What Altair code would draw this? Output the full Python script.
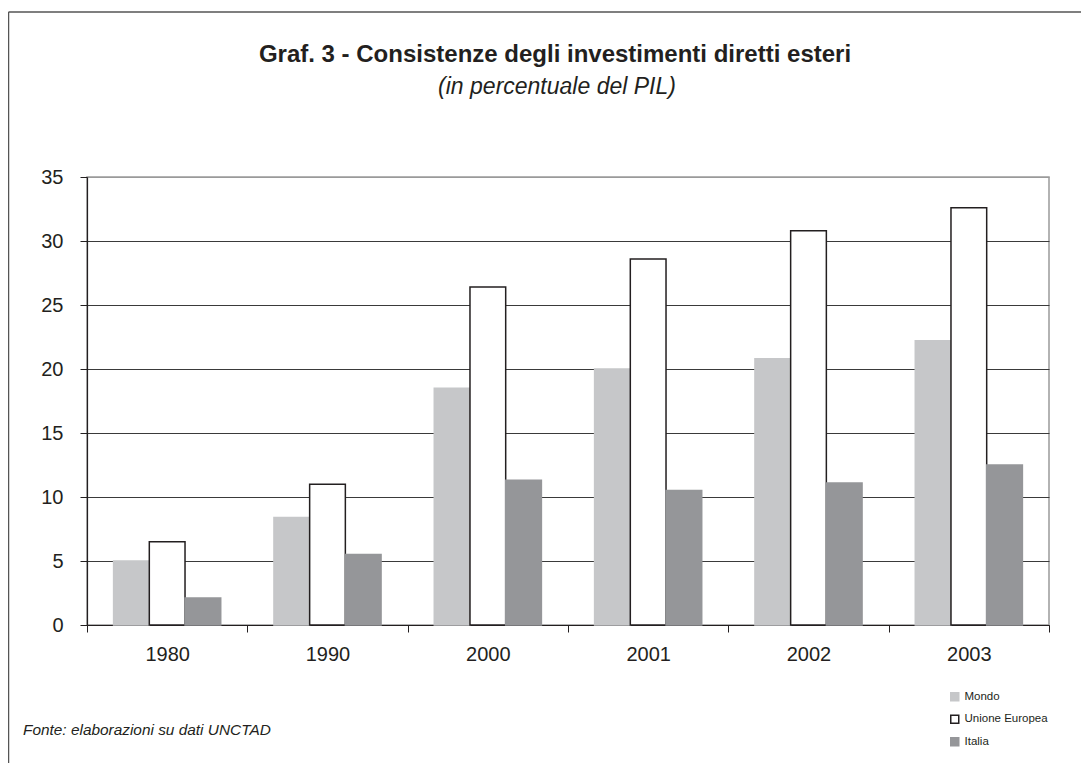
import altair as alt
import pandas as pd

years = ["1980", "1990", "2000", "2001", "2002", "2003"]
series = ["Mondo", "Unione Europea", "Italia"]
mondo = [5.0, 8.4, 18.5, 20.0, 20.8, 22.2]
ue = [6.5, 11.0, 26.4, 28.6, 30.8, 32.6]
italia = [2.1, 5.5, 11.3, 10.5, 11.1, 12.5]
colors_fill = ["#c6c7c9", "#ffffff", "#959699"]
colors_stroke = ["#c6c7c9", "#231f20", "#959699"]

title_text = "Graf. 3 - Consistenze degli investimenti diretti esteri"
subtitle_text = "(in percentuale del PIL)"
source_text = "Fonte: elaborazioni su dati UNCTAD"

rows = []
for i, y in enumerate(years):
    for s, vals in zip(series, [mondo, ue, italia]):
        rows.append({"anno": y, "serie": s, "valore": vals[i]})
df = pd.DataFrame(rows)

FONT = "Liberation Sans"
INK = "#231f20"

bars = alt.Chart(df).mark_bar(strokeWidth=1.5).encode(
    x=alt.X("anno:N", sort=years, title=None,
            scale=alt.Scale(paddingInner=0, paddingOuter=0),
            axis=alt.Axis(labelAngle=0, labelFontSize=20, labelFont=FONT, labelColor=INK,
                          domainColor=INK, domainWidth=1.2, tickColor=INK, tickSize=7,
                          tickBand="extent", labelPadding=12, grid=False)),
    xOffset=alt.XOffset("serie:N", sort=series,
                        scale=alt.Scale(domain=series, paddingOuter=0.745, paddingInner=0)),
    y=alt.Y("valore:Q", title=None,
            scale=alt.Scale(domain=[0, 35], nice=False),
            axis=alt.Axis(values=[0, 5, 10, 15, 20, 25, 30, 35], labelFontSize=20,
                          labelFont=FONT, labelColor=INK, domainColor=INK, domainWidth=1.2,
                          tickColor=INK, tickSize=7, labelPadding=17,
                          gridColor={"condition": {"test": "datum.value === 35", "value": "#9a9a9a"},
                                     "value": "#3a3a3a"},
                          gridWidth=1.2)),
    fill=alt.Fill("serie:N", sort=series, title=None,
                  scale=alt.Scale(domain=series, range=colors_fill)),
    stroke=alt.Stroke("serie:N", sort=series, title=None,
                      scale=alt.Scale(domain=series, range=colors_stroke)),
)

one = alt.Data(values=[{}])

frame_top = alt.Chart(one).mark_rule(color="#555555", strokeWidth=1.5).encode(
    x=alt.value(-78.5), x2=alt.value(1010), y=alt.value(-165))
frame_left = alt.Chart(one).mark_rule(color="#555555", strokeWidth=1.5).encode(
    x=alt.value(-78.5), y=alt.value(-165), y2=alt.value(600))

title = alt.Chart(one).mark_text(
    align="center", baseline="alphabetic", fontWeight="bold", fontSize=24, font=FONT, color=INK
).encode(x=alt.value(468), y=alt.value(-115), text=alt.value(title_text))
subtitle = alt.Chart(one).mark_text(
    align="center", baseline="alphabetic", fontStyle="italic", fontSize=23, font=FONT, color=INK
).encode(x=alt.value(470), y=alt.value(-83), text=alt.value(subtitle_text))

source = alt.Chart(one).mark_text(
    align="left", baseline="alphabetic", fontStyle="italic", fontSize=15.4, font=FONT, color=INK
).encode(x=alt.value(-64), y=alt.value(558), text=alt.value(source_text))

chart = alt.layer(frame_top, frame_left, title, subtitle, bars, source).properties(
    width=962,
    height=448,
    autosize=alt.AutoSizeParams(type="none"),
    padding={"left": 79, "top": 169, "right": 32, "bottom": 138},
).configure_view(stroke="#9a9a9a", strokeWidth=1.5).configure_legend(
    orient="none", legendX=862, legendY=514, symbolType="square", symbolSize=64,
    symbolStrokeWidth=1.5, labelFontSize=11.5, labelFont=FONT, labelColor=INK,
    rowPadding=7.5, labelOffset=4, padding=0,
)

chart.save("out.html", embed_options={"renderer": "svg", "actions": False})
